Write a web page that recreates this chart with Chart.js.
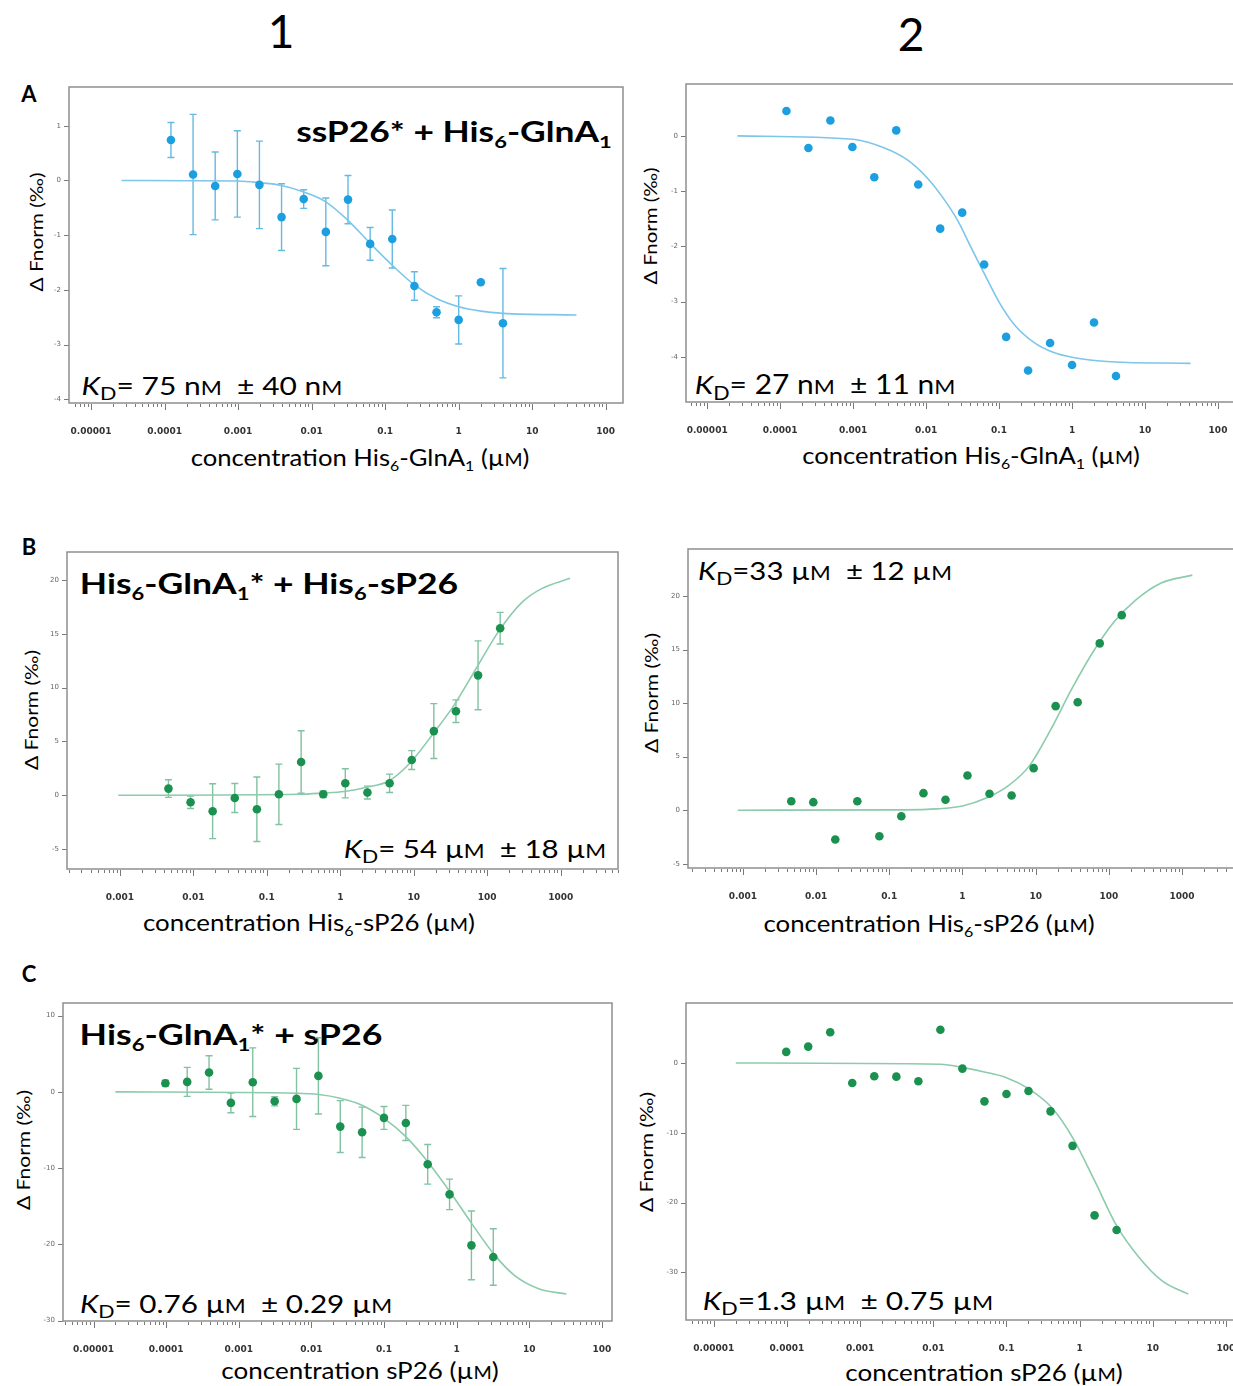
<!DOCTYPE html>
<html>
<head>
<meta charset="utf-8">
<script src="https://cdn.jsdelivr.net/npm/chart.js@4.4.1/dist/chart.umd.min.js"></script>
<style>
  html, body { margin: 0; padding: 0; background: #fff; }
  body { width: 1233px; height: 1386px; position: relative; overflow: hidden; font-family: Lato, 'Open Sans', sans-serif; color: #000; }
  canvas { position: absolute; }
  .t { position: absolute; white-space: nowrap; line-height: 1; transform-origin: 0 0; }
  .b { font-weight: bold; }
  .s { font-size: 0.62em; position: relative; top: 0.32em; }
  .d { font-size: 0.72em; position: relative; top: 0.3em; }
  .m { font-size: 0.76em; }
</style>
</head>
<body>

<!-- column headers and panel letters -->
<div class="t" data-cx="281" data-cy="32" style="font-size:46px">1</div>
<div class="t" data-cx="911" data-cy="35" style="font-size:46px">2</div>
<div class="t b" data-cx="29" data-cy="95" style="font-size:22px">A</div>
<div class="t b" data-cx="29" data-cy="548" style="font-size:22px">B</div>
<div class="t b" data-cx="29" data-cy="975" style="font-size:22px">C</div>

<!-- panel titles -->
<div class="t b" data-cx="454" data-cy="132" data-w="316" style="font-size:28px">ssP26* + His<span class="s">6</span>-GlnA<span class="s">1</span></div>
<div class="t b" data-cx="269" data-cy="583" data-w="378" style="font-size:29px">His<span class="s">6</span>-GlnA<span class="s">1</span>* + His<span class="s">6</span>-sP26</div>
<div class="t b" data-cx="231" data-cy="1034" data-w="303" style="font-size:29px">His<span class="s">6</span>-GlnA<span class="s">1</span>* + sP26</div>

<!-- KD annotations -->
<div class="t" data-cx="212" data-cy="386" data-w="261" style="font-size:25px"><i>K</i><span class="d">D</span>= 75 n<span class="m">M</span>&nbsp; ± 40 n<span class="m">M</span></div>
<div class="t" data-cx="825" data-cy="385" data-w="260" style="font-size:26px"><i>K</i><span class="d">D</span>= 27 n<span class="m">M</span>&nbsp; ± 11 n<span class="m">M</span></div>
<div class="t" data-cx="475" data-cy="849" data-w="262" style="font-size:25px"><i>K</i><span class="d">D</span>= 54 µ<span class="m">M</span>&nbsp; ± 18 µ<span class="m">M</span></div>
<div class="t" data-cx="825" data-cy="571" data-w="254" style="font-size:25px"><i>K</i><span class="d">D</span>=33 µ<span class="m">M</span>&nbsp; ± 12 µ<span class="m">M</span></div>
<div class="t" data-cx="236" data-cy="1304" data-w="312" style="font-size:25px"><i>K</i><span class="d">D</span>= 0.76 µ<span class="m">M</span>&nbsp; ± 0.29 µ<span class="m">M</span></div>
<div class="t" data-cx="848" data-cy="1301" data-w="290" style="font-size:25px"><i>K</i><span class="d">D</span>=1.3 µ<span class="m">M</span>&nbsp; ± 0.75 µ<span class="m">M</span></div>

<!-- x axis titles -->
<div class="t" data-cx="360" data-cy="458" data-w="339" style="font-size:23px">concentration His<span class="s">6</span>-GlnA<span class="s">1</span> (µ<span class="m">M</span>)</div>
<div class="t" data-cx="971" data-cy="456" data-w="338" style="font-size:23px">concentration His<span class="s">6</span>-GlnA<span class="s">1</span> (µ<span class="m">M</span>)</div>
<div class="t" data-cx="309" data-cy="923" data-w="332" style="font-size:23px">concentration His<span class="s">6</span>-sP26 (µ<span class="m">M</span>)</div>
<div class="t" data-cx="929" data-cy="924" data-w="331" style="font-size:23px">concentration His<span class="s">6</span>-sP26 (µ<span class="m">M</span>)</div>
<div class="t" data-cx="360" data-cy="1371" data-w="277" style="font-size:23px">concentration sP26 (µ<span class="m">M</span>)</div>
<div class="t" data-cx="984" data-cy="1373" data-w="277" style="font-size:23px">concentration sP26 (µ<span class="m">M</span>)</div>

<!-- y axis titles -->
<div class="t" data-cx="37" data-cy="232" data-w="119" data-rot="-90" style="font-size:18px">Δ Fnorm (‰)</div>
<div class="t" data-cx="651" data-cy="226" data-w="117" data-rot="-90" style="font-size:18px">Δ Fnorm (‰)</div>
<div class="t" data-cx="32" data-cy="710" data-w="120" data-rot="-90" style="font-size:18px">Δ Fnorm (‰)</div>
<div class="t" data-cx="652" data-cy="693" data-w="120" data-rot="-90" style="font-size:18px">Δ Fnorm (‰)</div>
<div class="t" data-cx="24" data-cy="1150" data-w="120" data-rot="-90" style="font-size:18px">Δ Fnorm (‰)</div>
<div class="t" data-cx="647" data-cy="1152" data-w="120" data-rot="-90" style="font-size:18px">Δ Fnorm (‰)</div>

<script>
// concentrations (µM) of the 16 titration points
const concA = [0.000122, 0.000244, 0.000488, 0.000977, 0.00195, 0.0039, 0.0078, 0.0156, 0.03125, 0.0625, 0.125, 0.25, 0.5, 1, 2, 4];
const concB = [0.00458, 0.00916, 0.0183, 0.0366, 0.0732, 0.146, 0.293, 0.586, 1.17, 2.34, 4.69, 9.38, 18.75, 37.5, 75, 150];
const concC = [0.0000977, 0.000195, 0.00039, 0.00078, 0.00156, 0.003125, 0.00625, 0.0125, 0.025, 0.05, 0.1, 0.2, 0.4, 0.8, 1.6, 3.2];

// Δ Fnorm (‰) values, with error bars where the panel has them
const yA1 = [0.74, 0.11, -0.10, 0.12, -0.08, -0.67, -0.34, -0.94, -0.35, -1.16, -1.07, -1.93, -2.41, -2.55, -1.86, -2.61];
const errA1 = [0.32, 1.1, 0.62, 0.79, 0.8, 0.61, 0.17, 0.62, 0.44, 0.3, 0.53, 0.26, 0.1, 0.44, 0, 1.0];
const yA2 = [0.45, -0.22, 0.28, -0.20, -0.75, 0.10, -0.88, -1.68, -1.39, -2.33, -3.64, -4.25, -3.75, -4.15, -3.38, -4.35];
const yB1 = [0.62, -0.65, -1.48, -0.25, -1.30, 0.09, 3.09, 0.09, 1.11, 0.25, 1.11, 3.27, 5.96, 7.81, 11.14, 15.52];
const errB1 = [0.82, 0.58, 2.55, 1.35, 3.0, 2.8, 2.9, 0.3, 1.35, 0.6, 0.85, 0.88, 2.55, 1.05, 3.2, 1.47];
const yB2 = [0.84, 0.75, -2.74, 0.84, -2.43, -0.56, 1.59, 0.97, 3.24, 1.53, 1.37, 3.93, 9.72, 10.09, 15.58, 18.22];
const yC1 = [1.14, 1.31, 2.54, -1.44, 1.27, -1.23, -0.92, 2.10, -4.55, -5.30, -3.41, -4.07, -9.50, -13.44, -20.13, -21.66];
const errC1 = [0.4, 1.9, 2.2, 1.3, 4.5, 0.6, 4.0, 5.0, 3.4, 3.3, 1.5, 2.3, 2.6, 2.0, 4.5, 3.7];
const yC2 = [1.58, 2.34, 4.40, -2.87, -1.91, -1.96, -2.63, 4.74, -0.81, -5.50, -4.45, -4.02, -6.94, -11.87, -21.82, -23.92];

// fitted binding curves
const fitA1x = [0.000026, 0.001, 0.00195, 0.0039, 0.0078, 0.0156, 0.03125, 0.0625, 0.125, 0.25, 0.5, 1, 2, 4, 40];
const fitA1y = [0, -0.01, -0.04, -0.09, -0.21, -0.39, -0.73, -1.15, -1.55, -1.91, -2.16, -2.31, -2.39, -2.43, -2.46];
const fitA2x = [0.000026, 0.001, 0.0027, 0.0056, 0.01, 0.0166, 0.027, 0.041, 0.063, 0.1, 0.16, 0.30, 0.55, 1, 3.4, 42];
const fitA2y = [0, -0.06, -0.22, -0.44, -0.74, -1.10, -1.53, -2.01, -2.50, -3.01, -3.41, -3.74, -3.92, -4.01, -4.09, -4.12];
const fitB1x = [0.00095, 0.28, 0.57, 1.13, 2.27, 4.5, 8.9, 17.8, 35.6, 71, 142, 294, 550, 1340];
const fitB1y = [0, 0.09, 0.2, 0.35, 0.75, 1.3, 3.0, 5.6, 8.4, 11.8, 15.2, 17.9, 19.2, 20.15];
const fitB2x = [0.00085, 0.13, 0.45, 1, 2.2, 4.2, 8.2, 16, 31, 61, 118, 230, 510, 1380];
const fitB2y = [0, 0.03, 0.12, 0.40, 1.18, 2.27, 4.14, 7.5, 11.3, 14.8, 17.6, 19.6, 21.2, 21.96];
const fitC1x = [0.00002, 0.0063, 0.0126, 0.025, 0.049, 0.1, 0.2, 0.4, 0.81, 1.61, 3.2, 6.2, 13.2, 32.5];
const fitC1y = [0, -0.18, -0.35, -0.83, -1.71, -3.46, -5.86, -9.15, -13.09, -17.24, -21.18, -24.03, -25.78, -26.52];
const fitC2x = [0.00002, 0.0126, 0.0255, 0.05, 0.1, 0.2, 0.41, 0.82, 1.6, 3.2, 6.5, 13.4, 30.6];
const fitC2y = [0, -0.19, -0.67, -1.29, -2.11, -3.68, -6.32, -10.86, -16.84, -23.3, -27.85, -31.2, -33.1];

// tick values and labels
const decadesA = [0.00001, 0.0001, 0.001, 0.01, 0.1, 1, 10, 100];
const decadeLabelsA = ['0.00001', '0.0001', '0.001', '0.01', '0.1', '1', '10', '100'];
const decadesB = [0.001, 0.01, 0.1, 1, 10, 100, 1000];
const decadeLabelsB = ['0.001', '0.01', '0.1', '1', '10', '100', '1000'];
const yTicksA1 = [-4, -3, -2, -1, 0, 1];
const yTicksA2 = [-4, -3, -2, -1, 0];
const yTicksB = [-5, 0, 5, 10, 15, 20];
const yTicksC1 = [-30, -20, -10, 0, 10];
const yTicksC2 = [-30, -20, -10, 0];

const BLUE = { dot: '#1b9fe0', line: '#7cc6ea', err: '#66b9e2' };
const GREEN = { dot: '#1b9150', line: '#8ccbab', err: '#80c2a1' };

// box = plot frame in page pixels [left, top, right, bottom]; x range in log10 units
const panels = [
  { box: [69, 87, 623, 403], xr: [-5.30, 2.235], yr: [-4.07, 1.71], xs: concA, ys: yA1, err: errA1, fx: fitA1x, fy: fitA1y, xt: decadesA, xl: decadeLabelsA, yt: yTicksA1, col: BLUE },
  { box: [686, 84, 1245, 402], xr: [-5.29, 2.37], yr: [-4.82, 0.94], xs: concA, ys: yA2, err: null, fx: fitA2x, fy: fitA2y, xt: decadesA, xl: decadeLabelsA, yt: yTicksA2, col: BLUE },
  { box: [67, 552, 618, 869], xr: [-3.72, 3.78], yr: [-6.85, 22.6], xs: concB, ys: yB1, err: errB1, fx: fitB1x, fy: fitB1y, xt: decadesB, xl: decadeLabelsB, yt: yTicksB, col: GREEN },
  { box: [688, 549, 1245, 868], xr: [-3.75, 3.86], yr: [-5.4, 24.4], xs: concB, ys: yB2, err: null, fx: fitB2x, fy: fitB2y, xt: decadesB, xl: decadeLabelsB, yt: yTicksB, col: GREEN },
  { box: [63, 1003, 612, 1321], xr: [-5.42, 2.14], yr: [-30.05, 11.66], xs: concC, ys: yC1, err: errC1, fx: fitC1x, fy: fitC1y, xt: decadesA, xl: decadeLabelsA, yt: yTicksC1, col: GREEN },
  { box: [686, 1003, 1245, 1320], xr: [-5.38, 2.26], yr: [-36.8, 8.58], xs: concC, ys: yC2, err: null, fx: fitC2x, fy: fitC2y, xt: decadesA, xl: decadeLabelsA, yt: yTicksC2, col: GREEN },
];

const PAD_L = 45, PAD_T = 10, PAD_R = 10, PAD_B = 45;

function framePlugin(p) {
  return {
    id: 'frame',
    beforeDatasetsDraw(chart) {
      if (!p.err) return;
      const { ctx, scales: { x, y } } = chart;
      ctx.save();
      ctx.strokeStyle = p.col.err;
      ctx.lineWidth = 1.4;
      p.xs.forEach((v, i) => {
        const e = p.err[i];
        if (!e) return;
        const px = x.getPixelForValue(v);
        const y1 = y.getPixelForValue(p.ys[i] + e);
        const y2 = y.getPixelForValue(p.ys[i] - e);
        ctx.beginPath();
        ctx.moveTo(px, y1); ctx.lineTo(px, y2);
        ctx.moveTo(px - 3.5, y1); ctx.lineTo(px + 3.5, y1);
        ctx.moveTo(px - 3.5, y2); ctx.lineTo(px + 3.5, y2);
        ctx.stroke();
      });
      ctx.restore();
    },
    afterDraw(chart) {
      const { ctx, chartArea: a, scales: { x, y } } = chart;
      ctx.save();
      // minor/major ticks hanging under the x axis
      ctx.strokeStyle = '#7a7a7a';
      ctx.lineWidth = 1;
      ctx.beginPath();
      for (let d = Math.floor(p.xr[0]); d <= Math.ceil(p.xr[1]); d++) {
        for (let k = 1; k <= 9; k++) {
          const lv = Math.log10(k) + d;
          if (lv < p.xr[0] || lv > p.xr[1]) continue;
          const px = Math.round(x.getPixelForValue(Math.pow(10, lv))) + 0.5;
          ctx.moveTo(px, a.bottom + 1);
          ctx.lineTo(px, a.bottom + (k === 1 ? 7 : 4));
        }
      }
      p.yt.forEach(v => {
        const py = Math.round(y.getPixelForValue(v)) + 0.5;
        ctx.moveTo(a.left - 5, py);
        ctx.lineTo(a.left, py);
      });
      ctx.stroke();
      // plot frame
      ctx.strokeStyle = '#8e8e8e';
      ctx.lineWidth = 1.5;
      ctx.strokeRect(a.left, a.top, a.right - a.left, a.bottom - a.top);
      ctx.restore();
    }
  };
}

panels.forEach(p => {
  const [l, t, r, b] = p.box;
  const cv = document.createElement('canvas');
  cv.width = (r - l) + PAD_L + PAD_R;
  cv.height = (b - t) + PAD_T + PAD_B;
  cv.style.left = (l - PAD_L) + 'px';
  cv.style.top = (t - PAD_T) + 'px';
  document.body.appendChild(cv);

  new Chart(cv, {
    type: 'scatter',
    plugins: [framePlugin(p)],
    data: {
      datasets: [
        {
          data: p.fx.map((v, i) => ({ x: v, y: p.fy[i] })),
          showLine: true,
          borderColor: p.col.line,
          borderWidth: 1.6,
          pointRadius: 0,
          cubicInterpolationMode: 'monotone',
          order: 2,
        },
        {
          data: p.xs.map((v, i) => ({ x: v, y: p.ys[i] })),
          backgroundColor: p.col.dot,
          borderWidth: 0,
          pointRadius: 4.3,
          order: 1,
        }
      ]
    },
    options: {
      responsive: false,
      animation: false,
      devicePixelRatio: 1,
      layout: { autoPadding: false, padding: { left: 0, top: PAD_T, right: PAD_R, bottom: 0 } },
      plugins: { legend: { display: false }, tooltip: { enabled: false } },
      scales: {
        x: {
          type: 'logarithmic',
          min: Math.pow(10, p.xr[0]),
          max: Math.pow(10, p.xr[1]),
          // tick marks are drawn by the frame plugin; tickLength only pushes the labels down
          grid: { display: false, drawTicks: true, tickLength: 23 },
          border: { display: false },
          afterBuildTicks(s) { s.ticks = p.xt.map(v => ({ value: v })); },
          afterFit(s) { s.height = PAD_B; },
          ticks: {
            autoSkip: false, maxRotation: 0, minRotation: 0, padding: 0,
            color: '#333',
            font: { family: 'DejaVu Sans', size: 9, weight: 'bold' },
            callback: (v, i) => p.xl[i],
          },
        },
        y: {
          type: 'linear',
          min: p.yr[0],
          max: p.yr[1],
          grid: { display: false, drawTicks: true, tickLength: 8 },
          border: { display: false },
          afterBuildTicks(s) { s.ticks = p.yt.map(v => ({ value: v })); },
          afterFit(s) { s.width = PAD_L; },
          ticks: {
            padding: 0,
            color: '#666',
            font: { family: 'DejaVu Sans', size: 7 },
            callback: v => String(v),
          },
        },
      },
    },
  });
});

function placeText() {
  document.querySelectorAll('.t').forEach(el => {
    el.style.transform = 'none';
    const w = +el.dataset.w || 0;
    const sx = w ? w / el.offsetWidth : 1;
    const rot = +el.dataset.rot || 0;
    el.style.left = el.dataset.cx + 'px';
    el.style.top = el.dataset.cy + 'px';
    el.style.transform = `rotate(${rot}deg) scaleX(${sx}) translate(-50%, -0.53em)`;
  });
}
placeText();
if (document.fonts && document.fonts.ready) document.fonts.ready.then(placeText);
</script>
</body>
</html>
